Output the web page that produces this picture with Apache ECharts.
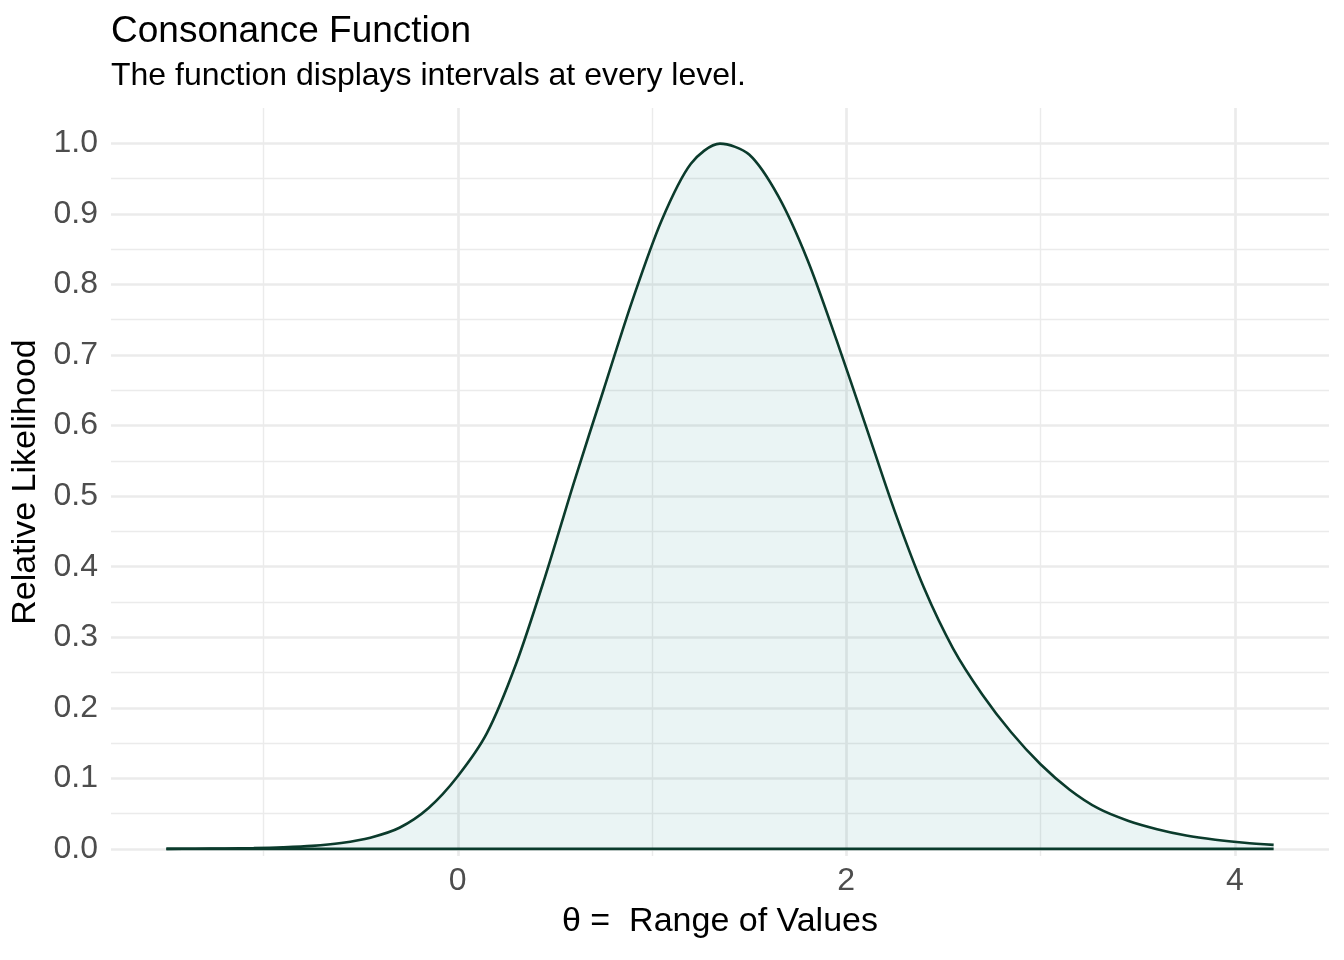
<!DOCTYPE html>
<html>
<head>
<meta charset="utf-8">
<title>Consonance Function</title>
<script src="https://cdn.jsdelivr.net/npm/echarts@6.0.0/dist/echarts.min.js"></script>
<style>
  html, body { margin: 0; padding: 0; background: #fff; }
  #main { width: 1344px; height: 960px; }
</style>
</head>
<body>
<div id="main"></div>
<script>
// values, every 0.15
var thetaValues = [-1.50, -1.35, -1.20, -1.05, -0.90, -0.75, -0.60, -0.45, -0.30, -0.15,
                   0.00, 0.15, 0.30, 0.45, 0.60, 0.75, 0.90, 1.05, 1.20, 1.35,
                   1.50, 1.65, 1.80, 1.95, 2.10, 2.25, 2.40, 2.55, 2.70, 2.85,
                   3.00, 3.15, 3.30, 3.45, 3.60, 3.75, 3.90, 4.05, 4.20];
var likelihood = [0.0001, 0.0003, 0.0007, 0.0012, 0.0023, 0.0043, 0.0085, 0.016, 0.030, 0.058,
                  0.103, 0.164, 0.262, 0.386, 0.521, 0.650, 0.778, 0.891, 0.971, 0.9995,
                  0.984, 0.925, 0.835, 0.721, 0.600, 0.478, 0.370, 0.284, 0.219, 0.165,
                  0.120, 0.084, 0.057, 0.040, 0.028, 0.019, 0.013, 0.0087, 0.0057];

// lower edge of the ribbon
var baseTheta = [-1.50, 4.20];
var baseLevel = [0, 0];

// ticks / grid lines
var xLabels = [0, 2, 4];
var xMinor = [-1, 1, 3];
var yLabels = [0, 0.1, 0.2, 0.3, 0.4, 0.5, 0.6, 0.7, 0.8, 0.9, 1.0];
var yMinor = [0.05, 0.15, 0.25, 0.35, 0.45, 0.55, 0.65, 0.75, 0.85, 0.95];

var FONT = '"Liberation Sans", Arial, Helvetica, sans-serif';
var LINE = '#0b3b2c';
var GRID_COL = '#ebebeb';

var curve = thetaValues.map(function (t, i) { return [t, likelihood[i]]; });
var base = baseTheta.map(function (t, i) { return [t, baseLevel[i]]; });

var gridLines = [];
xLabels.forEach(function (v) { gridLines.push({ xAxis: v, lineStyle: { width: 2.7 } }); });
xMinor.forEach(function (v) { gridLines.push({ xAxis: v, lineStyle: { width: 1.4 } }); });
yLabels.forEach(function (v) { gridLines.push({ yAxis: v, lineStyle: { width: 2.7 } }); });
yMinor.forEach(function (v) { gridLines.push({ yAxis: v, lineStyle: { width: 1.4 } }); });

var myChart = echarts.init(document.getElementById('main'));

var option = {
    animation: false,
    backgroundColor: '#fff',
    title: [{
        text: 'Consonance Function',
        left: 111, top: 13, padding: 0,
        textStyle: { fontFamily: FONT, fontSize: 37, fontWeight: 'normal', color: '#000' }
    }, {
        text: 'The function displays intervals at every level.',
        left: 111, top: 60, padding: 0,
        textStyle: { fontFamily: FONT, fontSize: 32, fontWeight: 'normal', color: '#000' }
    }],
    grid: { left: 111, right: 15, top: 108, bottom: 104 },
    xAxis: {
        type: 'value',
        min: -1.785,
        max: 4.485,
        name: 'θ =  Range of Values',
        nameLocation: 'middle',
        nameGap: 49,
        nameTextStyle: { fontFamily: FONT, fontSize: 34, color: '#000' },
        axisLine: { show: false },
        axisTick: { show: false },
        splitLine: { show: false },
        axisLabel: {
            customValues: xLabels,
            margin: 9,
            fontFamily: FONT, fontSize: 32, color: '#4d4d4d'
        }
    },
    yAxis: {
        type: 'value',
        min: -0.01,
        max: 1.05,
        name: 'Relative Likelihood',
        nameLocation: 'middle',
        nameRotate: 90,
        nameGap: 66,
        nameTextStyle: { fontFamily: FONT, fontSize: 34, color: '#000' },
        axisLine: { show: false },
        axisTick: { show: false },
        splitLine: { show: false },
        axisLabel: {
            customValues: yLabels,
            margin: 13,
            fontFamily: FONT, fontSize: 32, color: '#4d4d4d',
            formatter: function (v) { return v.toFixed(1); }
        }
    },
    series: [{
        // background grid
        type: 'line',
        data: [],
        silent: true,
        z: 1,
        markLine: {
            silent: true,
            symbol: 'none',
            label: { show: false },
            lineStyle: { color: GRID_COL, type: 'solid' },
            z: 1,
            data: gridLines
        }
    }, {
        type: 'line',
        data: curve,
        smooth: 0.3,
        showSymbol: false,
        z: 10,
        lineStyle: { color: LINE, width: 2.6 },
        areaStyle: { color: 'rgba(16,130,125,0.12)' }
    }, {
        type: 'line',
        data: base,
        showSymbol: false,
        z: 11,
        lineStyle: { color: LINE, width: 2.8 }
    }]
};

myChart.setOption(option);
</script>
</body>
</html>
